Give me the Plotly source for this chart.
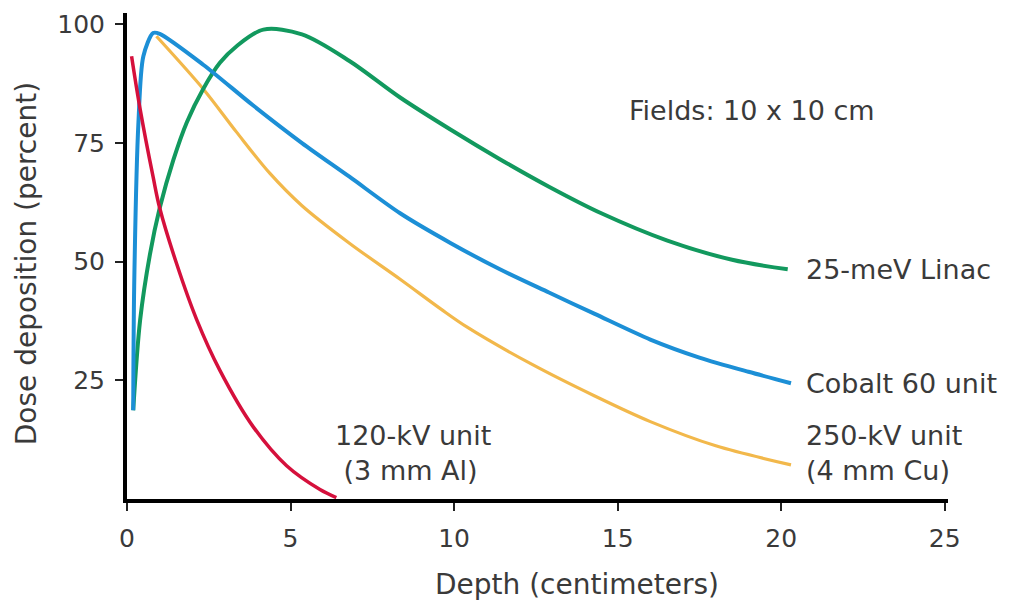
import plotly.graph_objects as go

# Depth (cm) and dose (%)
red_x = [0.14, 0.4, 0.8, 1.0, 1.52, 2.13, 2.84, 3.86, 4.88, 5.9, 6.4]
red_y = [93.3, 82.2, 67.8, 61.3, 49.5, 37.8, 27.1, 15.2, 7.0, 2.0, 0.3]

blue_x = [0.19, 0.22, 0.35, 0.5, 0.8, 1.0, 2.33, 3.86, 5.35, 6.8, 8.35, 9.9, 11.4, 12.9, 14.3, 16.0, 17.5, 19.0, 20.3]
blue_y = [18.7, 45.0, 79.4, 93.3, 98.2, 98.0, 91.5, 82.9, 75.0, 67.9, 60.2, 53.9, 48.4, 43.5, 39.0, 33.6, 29.8, 26.8, 24.4]

green_x = [0.19, 0.4, 0.7, 1.0, 1.42, 1.83, 2.33, 2.84, 3.35, 4.17, 5.35, 6.8, 8.35, 9.9, 11.4, 12.9, 14.5, 16.5, 18.5, 20.2]
green_y = [18.7, 37.6, 51.5, 61.3, 71.5, 79.4, 86.4, 91.9, 95.4, 98.9, 97.9, 92.3, 84.6, 77.8, 71.6, 65.8, 60.2, 54.5, 50.4, 48.4]

orange_x = [0.9, 2.33, 3.35, 4.37, 5.35, 6.8, 8.35, 9.6, 10.4, 12.4, 14.3, 16.0, 18.0, 20.3]
orange_y = [97.5, 86.4, 77.3, 68.6, 61.8, 53.9, 46.3, 40.0, 36.2, 28.3, 21.7, 16.3, 11.2, 7.2]

x_ticks = [0, 5, 10, 15, 20, 25]
y_ticks = [25, 50, 75, 100]

FONT = "DejaVu Sans"
TXT = "#3a3a3a"

# page offset (body margin) compensation
L, T = 119, 2
PW, PH = 821, 489.5

def px(page_x):
    return (page_x - (L + 8)) / PW

def py(page_y):
    return ((T + 8 + PH) - page_y) / PH

fig = go.Figure()
fig.add_trace(go.Scatter(x=orange_x, y=orange_y, mode="lines",
                         line=dict(color="#f2b84b", width=3.2, shape="spline", smoothing=0.9)))
fig.add_trace(go.Scatter(x=green_x, y=green_y, mode="lines",
                         line=dict(color="#12995e", width=4, shape="spline", smoothing=0.9)))
fig.add_trace(go.Scatter(x=blue_x, y=blue_y, mode="lines",
                         line=dict(color="#1c8fd6", width=4, shape="spline", smoothing=0.8)))
fig.add_trace(go.Scatter(x=red_x, y=red_y, mode="lines",
                         line=dict(color="#d5103c", width=3.5, shape="spline", smoothing=1.0)))

annots = [
    dict(x=19.1, y=81.9, text="Fields: 10 x 10 cm", xanchor="center"),
    dict(x=20.7, y=48.3, text="25-meV Linac", xanchor="left"),
    dict(x=20.7, y=24.4, text="Cobalt 60 unit", xanchor="left"),
    dict(x=20.7, y=9.6, text="250-kV unit<br>(4 mm Cu)", xanchor="left"),
    dict(x=6.3, y=9.6, text="120-kV unit<br> (3 mm Al)", xanchor="left"),
]
for a in annots:
    fig.add_annotation(x=a["x"], y=a["y"], text=a["text"], xanchor=a["xanchor"],
                       yanchor="middle", showarrow=False, align="left",
                       font=dict(family=FONT, size=27, color=TXT))

fig.add_annotation(xref="paper", yref="paper", x=px(577), y=py(586),
                   text="Depth (centimeters)", showarrow=False,
                   xanchor="center", yanchor="middle",
                   font=dict(family=FONT, size=28, color=TXT))
fig.add_annotation(xref="paper", yref="paper", x=px(26), y=py(263),
                   text="Dose deposition (percent)", showarrow=False, textangle=-90,
                   xanchor="center", yanchor="middle",
                   font=dict(family=FONT, size=28, color=TXT))

fig.update_layout(
    width=1013, height=603,
    margin=dict(l=L, r=1013 - L - PW, t=T, b=603 - T - PH),
    paper_bgcolor="white", plot_bgcolor="white",
    showlegend=False,
    font=dict(family=FONT, size=25, color=TXT),
    xaxis=dict(range=[0, 25.1], tickvals=x_ticks, ticktext=[str(v) for v in x_ticks],
               showgrid=False, zeroline=False, showline=True, linecolor="black", linewidth=4,
               ticks="outside", ticklen=8, tickwidth=2, tickcolor="#222",
               ticklabelstandoff=6, ticklabeloverflow="allow",
               tickfont=dict(family=FONT, size=25, color=TXT)),
    yaxis=dict(range=[0, 102.4], tickvals=y_ticks, ticktext=[str(v) for v in y_ticks],
               showgrid=False, zeroline=False, showline=True, linecolor="black", linewidth=4,
               ticks="outside", ticklen=8, tickwidth=2, tickcolor="#222",
               ticklabelstandoff=5, ticklabeloverflow="allow",
               tickfont=dict(family=FONT, size=25, color=TXT)),
)

fig.write_html("out.html")
